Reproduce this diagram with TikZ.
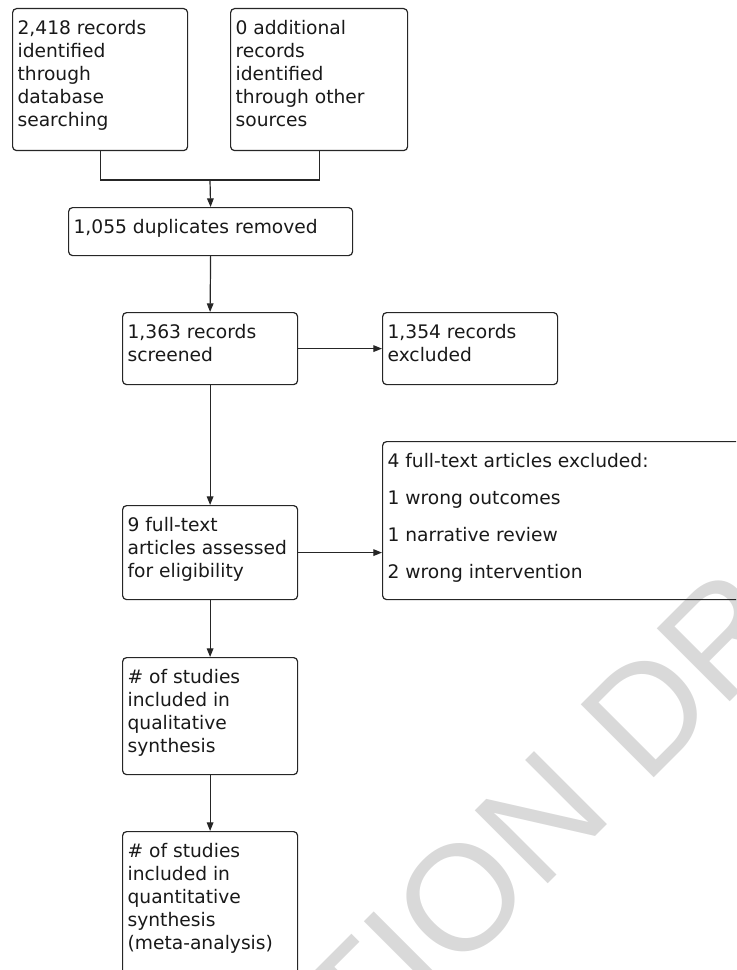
\documentclass[tikz,border=0pt]{standalone}
\usepackage{fontspec}
\setmainfont{DejaVu Sans}
\newfontfamily\wmfont{Liberation Sans}
\usetikzlibrary{arrows.meta}

\newcommand{\boxtext}[3]{\begin{minipage}[t][#2][t]{#1}\setlength\topsep{0pt}\raggedright
#3
\end{minipage}}

\begin{document}
\begin{tikzpicture}[x=0.75pt,y=0.75pt,yscale=-1,xscale=1,
  flowbox/.style={draw=black!85, line width=0.9pt, rounded corners=3pt, anchor=north west,
    inner xsep=3.75pt, inner ysep=9pt, text=black!90, font=\fontsize{14}{17.2}\selectfont},
  flow/.style={draw=black!85, line width=0.9pt, -{Triangle[length=6.5pt,width=5pt]}},
  link/.style={draw=black!85, line width=0.9pt},
  wmark/.style={text=black!15, font=\wmfont\fontsize{112.5}{112.5}\selectfont,
    rotate=45, inner sep=0pt, anchor=base west}]
\useasboundingbox (0,0) rectangle (736,970);
\clip (0,0) rectangle (736,970);

% Watermark
\node[wmark] (wmark) at (645,787) {\llap{PUBLICATION }DRAFT};

% Text Node
\node[flowbox] (recdb) at (12,8) {\boxtext{123.75pt}{88.5pt}{2,418 records\\ identified\\ through\\ database\\ searching}};
% Text Node
\node[flowbox] (recother) at (230,8) {\boxtext{125.25pt}{88.5pt}{0 additional\\ records\\ identified\\ through other\\ sources}};
% Text Node
\node[flowbox] (dupl) at (68,207) {\boxtext{205.5pt}{18pt}{1,055 duplicates removed}};
% Text Node
\node[flowbox] (screened) at (122,312) {\boxtext{123.75pt}{36pt}{1,363 records\\ screened}};
% Text Node
\node[flowbox] (excl) at (382,312) {\boxtext{123.75pt}{36pt}{1,354 records\\ excluded}};
% Text Node
\node[flowbox] (fulltext) at (122,505) {\boxtext{123.75pt}{52.5pt}{9 full-text\\ articles assessed\\ for eligibility}};
% Text Node
\node[flowbox, font=\fontsize{14}{27.75}\selectfont] (ftexcl) at (382,441) {\boxtext{277.5pt}{100.5pt}{4 full-text articles excluded:\\ 1 wrong outcomes\\ 1 narrative review\\ 2 wrong intervention}};
% Text Node
\node[flowbox] (qual) at (122,657) {\boxtext{123.75pt}{69.75pt}{\# of studies\\ included in\\ qualitative\\ synthesis}};
% Text Node
\node[flowbox] (quant) at (122,831) {\boxtext{123.75pt}{109.5pt}{\# of studies\\ included in\\ quantitative\\ synthesis\\ (meta-analysis)}};

%Straight Lines
\coordinate (join) at (210,180);
\draw[link] (recdb.south) |- (join) -| (recother.south);
\draw[flow] (join) -- (dupl.north);
\draw[flow] (dupl.south) -- (screened.north);
\draw[flow] (screened.east) -- (excl.west);
\draw[flow] (screened.south) -- (fulltext.north);
\draw[flow] (fulltext.east) -- (fulltext.east -| ftexcl.west);
\draw[flow] (fulltext.south) -- (qual.north);
\draw[flow] (qual.south) -- (quant.north);

\end{tikzpicture}
\end{document}
